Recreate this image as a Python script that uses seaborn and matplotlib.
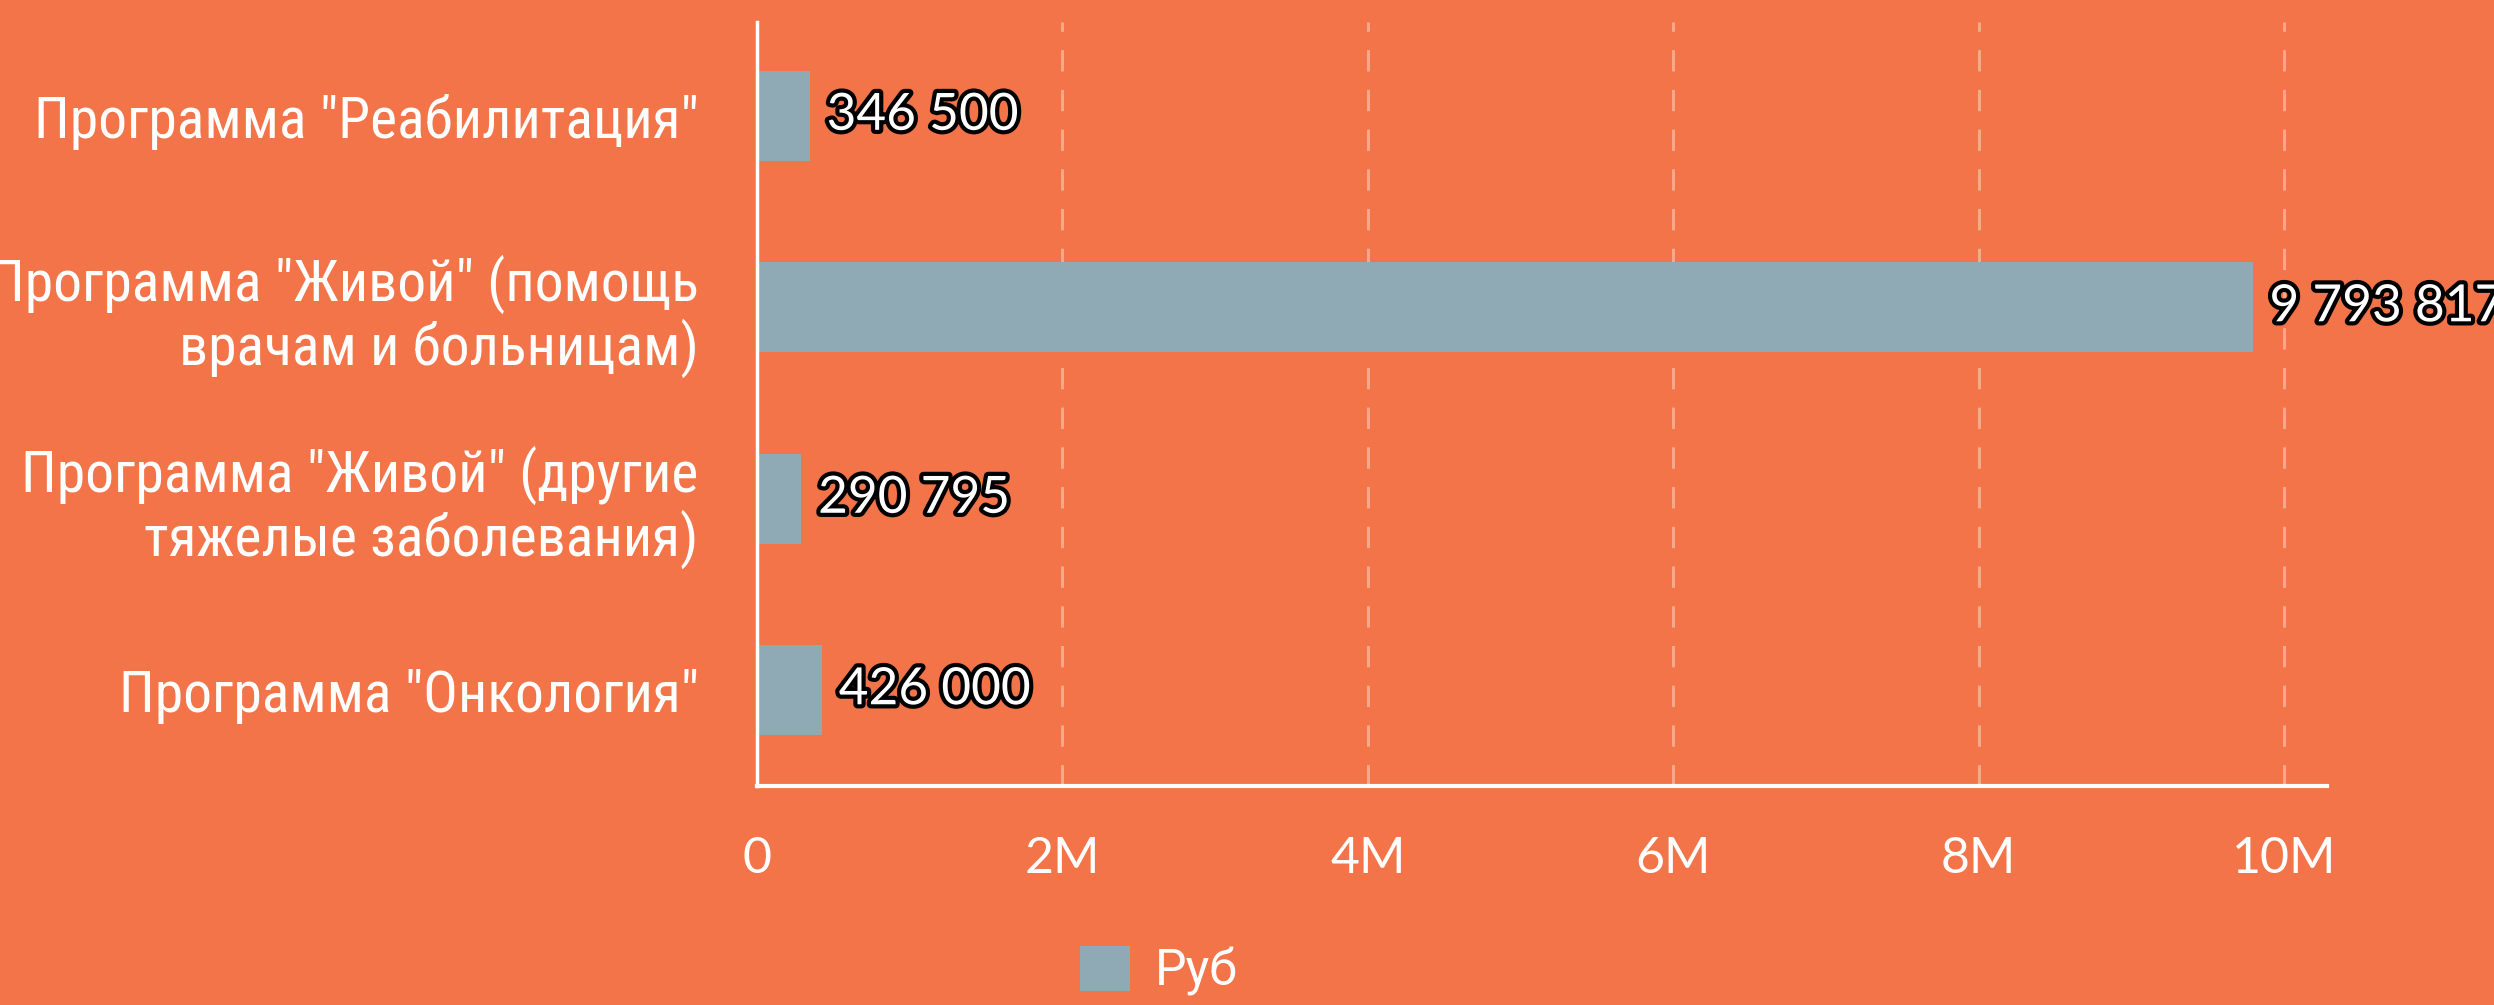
import matplotlib
matplotlib.use("Agg")
import matplotlib.pyplot as plt
import matplotlib.patheffects as pe
from matplotlib import font_manager
import seaborn as sns
import pandas as pd

categories = [
    'Программа "Реабилитация"',
    'Программа "Живой" (помощь\nврачам и больницам)',
    'Программа "Живой" (другие\nтяжелые заболевания)',
    'Программа "Онкология"',
]
values = [346500, 9793817, 290795, 426000]
series_name = "Руб"
xticks = [0, 2e6, 4e6, 6e6, 8e6, 10e6]
xtick_labels = ["0", "2M", "4M", "6M", "8M", "10M"]

BG = "#F27448"
BAR = "#8FAAB5"
GRID = "#F7A888"

names = {f.name for f in font_manager.fontManager.ttflist}
cat_font = "Roboto"
for cand in ["Roboto Condensed", "Liberation Sans Narrow"]:
    if cand in names:
        cat_font = cand
        break

sns.set_theme(style="white")
plt.rcParams["font.family"] = ["Lato", "DejaVu Sans"]

df = pd.DataFrame({"cat": categories, "value": values, "series": series_name})

fig = plt.figure(figsize=(24.94, 10.05), dpi=100, facecolor=BG)
ax = fig.add_axes([757 / 2494, 1 - 786 / 1005, (2327 - 757) / 2494, (786 - 22) / 1005])
ax.set_facecolor(BG)

sns.barplot(data=df, x="value", y="cat", hue="series", palette=[BAR],
            width=0.47, orient="h", ax=ax, saturation=1, linewidth=0)

ax.set_xlim(0, 10.28e6)
ax.set_ylim(3.5, -0.49)
ax.set_xticks(xticks)
ax.set_xticklabels(xtick_labels, fontsize=36, color="white", family=["Lato", "DejaVu Sans"])
ax.tick_params(axis="x", length=0, pad=36)
ax.tick_params(axis="y", length=0, pad=42)
for lab in ax.get_yticklabels():
    lab.set_fontsize(34.5 if cat_font == "Roboto" else 41.5)
    lab.set_family([cat_font, "DejaVu Sans"])
    lab.set_color("white")
    lab.set_multialignment("right")
    lab.set_linespacing(1.1)
ax.set_xlabel("")
ax.set_ylabel("")

for x in xticks[1:]:
    ax.axvline(x, color=GRID, lw=2.2, dashes=(7, 6), zorder=0)

for s in ["top", "right"]:
    ax.spines[s].set_visible(False)
ax.spines["left"].set_color("white")
ax.spines["left"].set_linewidth(2.5)
ax.spines["bottom"].set_color("white")
ax.spines["bottom"].set_linewidth(3)

for i, v in enumerate(values):
    txt = f"{v:,}".replace(",", " ")
    ax.annotate(txt, xy=(v, i), xytext=(12, 0), textcoords="offset points",
                va="center", ha="left", fontsize=37, color="white",
                family=["Lato", "DejaVu Sans"], annotation_clip=False,
                path_effects=[pe.Stroke(linewidth=6, foreground="black"), pe.Normal()])

sns.move_legend(ax, "center left", bbox_to_anchor=(1080 / 2494, 1 - 971 / 1005),
                bbox_transform=fig.transFigure, frameon=False, title=None,
                fontsize=36, handlelength=1.0, handleheight=1.0, handletextpad=0.5,
                borderpad=0, borderaxespad=0, labelcolor="white")
for t in ax.get_legend().get_texts():
    t.set_family(["Roboto", "DejaVu Sans"])

fig.savefig("out.png", dpi=100, facecolor=BG)
